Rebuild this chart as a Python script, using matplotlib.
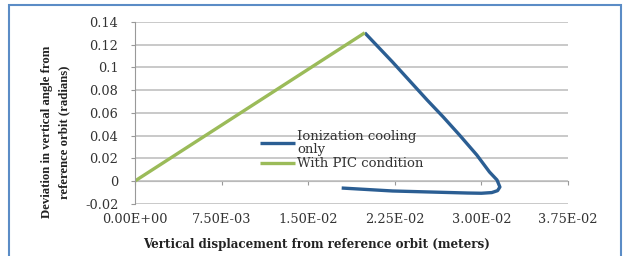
import matplotlib.pyplot as plt
from matplotlib.patches import Rectangle
from matplotlib.ticker import FuncFormatter

# Data
pic_x = [0.0, 0.0199]
pic_y = [0.0, 0.1305]

ion_x = [0.0199, 0.0223, 0.0253, 0.0267, 0.0281, 0.0296, 0.0307, 0.03135, 0.0316, 0.0314, 0.0309,
         0.0300, 0.0288, 0.0223, 0.0179]
ion_y = [0.1305, 0.1048, 0.0713, 0.0563, 0.0405, 0.0229, 0.0079, 0.0009, -0.0053, -0.0085, -0.0102,
         -0.0108, -0.0106, -0.0088, -0.0062]

x_ticks = [0.0, 0.0075, 0.015, 0.0225, 0.03, 0.0375]
y_ticks = [-0.02, 0, 0.02, 0.04, 0.06, 0.08, 0.1, 0.12, 0.14]

blue = '#2b5e93'
green = '#9bbb59'
grid = '#c0c0c0'
txt = '#333333'

fig = plt.figure(figsize=(6.24, 2.56), dpi=100)
ax = fig.add_axes([0.2163, 0.2043, 0.694, 0.7097])

# outer border of the chart box
fig.patches.append(Rectangle((9 / 624, -0.05), 612 / 624, 1 - 5 / 256 + 0.05,
                             transform=fig.transFigure, fill=False,
                             edgecolor='#5b8cc6', lw=1.5))

ax.plot(ion_x, ion_y, color=blue, lw=2.4, label='Ionization cooling\nonly',
        solid_capstyle='butt', solid_joinstyle='round')
ax.plot(pic_x, pic_y, color=green, lw=2.4, label='With PIC condition',
        solid_capstyle='butt')

ax.set_xlim(0, 0.0375)
ax.set_ylim(-0.02, 0.14)
ax.set_xticks(x_ticks)
ax.set_yticks(y_ticks)
ax.xaxis.set_major_formatter(FuncFormatter(lambda v, p: f"{v:.2E}"))
ax.yaxis.set_major_formatter(FuncFormatter(lambda v, p: f"{round(v, 2):g}"))

ax.grid(axis='y', color=grid, lw=1.2)
ax.set_axisbelow(True)
for s in ['top', 'right', 'bottom']:
    ax.spines[s].set_visible(False)
ax.spines['left'].set_color('#999999')
ax.tick_params(axis='x', length=0, pad=7, labelsize=9.3, labelcolor=txt)
ax.tick_params(axis='y', length=3, pad=9, color='#999999', labelsize=9.3, labelcolor=txt)
for lab in ax.get_xticklabels() + ax.get_yticklabels():
    lab.set_family('DejaVu Serif')

# horizontal axis line crossing at y = 0
sec = ax.secondary_xaxis(0.125)
sec.set_xticks(x_ticks)
sec.tick_params(length=3, color='#999999', labelbottom=False)
sec.spines['bottom'].set_color('#999999')

ax.set_xlabel('Vertical displacement from reference orbit (meters)',
              family='DejaVu Serif', weight='bold', fontsize=8.6, color='#222222')
ax.xaxis.set_label_coords(0.42, -0.19)
ax.set_ylabel('Deviation in vertical angle from\nreference orbit (radians)',
              family='Liberation Serif', weight='bold', fontsize=9.2, color='#222222',
              linespacing=1.55)
ax.yaxis.set_label_coords(-0.15, 0.395)

leg = ax.legend(loc='upper left', bbox_to_anchor=(0.273, 0.442), frameon=False,
                prop={'family': 'DejaVu Serif', 'size': 9.5}, handlelength=2.65,
                handletextpad=0.2, labelspacing=0.1, borderpad=0)
for t in leg.get_texts():
    t.set_color(txt)
    t.set_linespacing(1.0)

fig.savefig('out.png', dpi=100)
